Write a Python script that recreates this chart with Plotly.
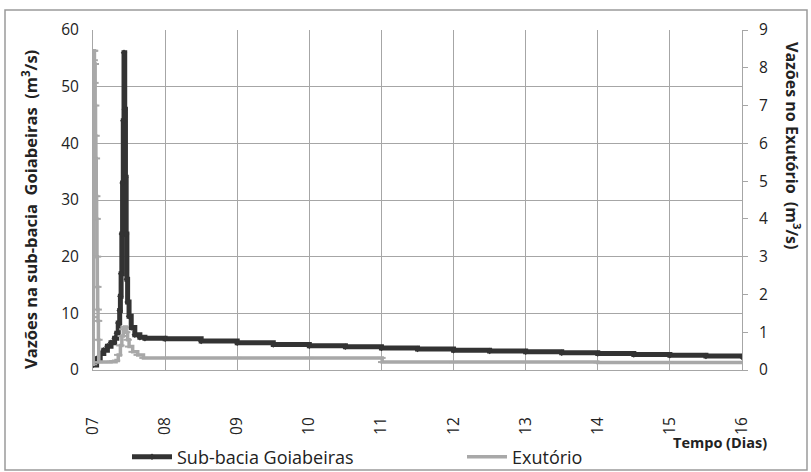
import plotly.graph_objects as go

# Sub-bacia Goiabeiras (left axis, m3/s)
t_goiab = [7.00, 7.05, 7.10, 7.15, 7.20, 7.25, 7.30, 7.33, 7.35, 7.37, 7.38, 7.39, 7.40,
           7.41, 7.42, 7.43, 7.44, 7.45, 7.46, 7.47, 7.48, 7.50, 7.53, 7.58, 7.65, 7.72,
           8.00, 8.50, 9.00, 9.50, 10.00, 10.50, 11.00, 11.50, 12.00, 12.50, 13.00, 13.50,
           14.00, 14.50, 15.00, 15.50, 16.00]
q_goiab = [0.9, 2.0, 2.9, 3.5, 4.2, 4.8, 5.6, 6.5, 8.3, 10.5, 13.0, 17.0, 24.0,
           33.0, 44.0, 56.0, 46.0, 34.0, 24.0, 16.0, 12.0, 9.5, 7.5, 6.2, 5.8, 5.6,
           5.5, 5.1, 4.8, 4.5, 4.3, 4.1, 3.9, 3.7, 3.5, 3.35, 3.2, 3.05, 2.9, 2.75,
           2.6, 2.45, 2.3]

# Exutorio (right axis, m3/s)
t_exut = [7.00, 7.003, 7.006, 7.01, 7.015, 7.02, 7.025, 7.03, 7.035, 7.04, 7.045, 7.05, 7.055,
          7.06, 7.065, 7.07, 7.075, 7.08, 7.15, 7.25, 7.32, 7.35, 7.38, 7.40, 7.42, 7.44,
          7.46, 7.48, 7.50, 7.55, 7.62, 7.70, 8.00, 9.00, 10.00, 11.00, 11.01, 12.00, 13.00,
          14.00, 15.00, 16.00]
q_exut = [0.15, 1.4, 8.45, 8.2, 8.45, 7.6, 8.1, 7.0, 6.2, 5.6, 4.6, 4.0, 3.0,
          2.2, 1.6, 1.3, 0.8, 0.21, 0.21, 0.22, 0.25, 0.4, 0.65, 0.9, 1.08, 1.14,
          1.0, 0.8, 0.62, 0.48, 0.4, 0.32, 0.32, 0.32, 0.32, 0.32, 0.21, 0.21, 0.21,
          0.20, 0.20, 0.20]

x_ticks = [7, 8, 9, 10, 11, 12, 13, 14, 15, 16]
x_ticktext = ["07", "08", "09", "10", "11", "12", "13", "14", "15", "16"]

font_fam = "Open Sans, Liberation Sans, sans-serif"
grid_col = "#a6a6a6"
txt_col = "#222222"

fig = go.Figure()
fig.add_trace(go.Scatter(
    x=t_goiab, y=q_goiab, name="Sub-bacia Goiabeiras", mode="lines+markers",
    line=dict(color="#333333", width=5, shape="hv"),
    marker=dict(symbol="diamond", size=5, color="#333333"),
    yaxis="y", legend="legend"))
fig.add_trace(go.Scatter(
    x=t_exut, y=q_exut, name="Exutório", mode="lines+markers",
    line=dict(color="#a8a8a8", width=3.5, shape="hv"),
    marker=dict(symbol="line-ew", size=6, color="#a8a8a8",
                line=dict(color="#a8a8a8", width=2)),
    yaxis="y2", legend="legend2"))

W, H = 811, 472
L, R, T, B = 93, 811 - 742, 30, 472 - 370
pw, ph = W - L - R, H - T - B


def px(xp):
    return (xp - L) / pw


def py(yp):
    return (H - B - yp) / ph


leg_common = dict(orientation="h", xref="container", yref="container",
                  yanchor="middle", xanchor="left",
                  font=dict(size=18, color=txt_col), itemwidth=40,
                  bgcolor="rgba(0,0,0,0)")

fig.update_layout(
    width=W, height=H,
    margin=dict(l=L, r=R, t=T, b=B, autoexpand=False),
    paper_bgcolor="white", plot_bgcolor="white",
    font=dict(family=font_fam, color=txt_col, size=15.5),
    xaxis=dict(range=[7, 16], tickmode="array", tickvals=x_ticks, ticktext=x_ticktext,
               tickangle=-90, showgrid=True, gridcolor=grid_col, gridwidth=1,
               showline=True, linecolor=grid_col, ticks="", ticklabelstandoff=40,
               tickfont=dict(size=15.5), zeroline=False, automargin=False),
    yaxis=dict(range=[0, 60], dtick=10, showgrid=True, gridcolor=grid_col, gridwidth=1,
               showline=True, linecolor=grid_col, ticks="", zeroline=False,
               ticklabelstandoff=10, tickfont=dict(size=15.5), automargin=False),
    yaxis2=dict(range=[0, 9], dtick=1, overlaying="y", side="right", showgrid=False,
                showline=True, linecolor=grid_col, ticks="outside", ticklen=5,
                tickcolor=grid_col, zeroline=False, ticklabelstandoff=8,
                tickfont=dict(size=15.5), automargin=False),
    legend=dict(x=127 / W, y=1 - 457 / H, **leg_common),
    legend2=dict(x=462 / W, y=1 - 457 / H, **leg_common),
    showlegend=True,
)

fig.add_annotation(text="<b>Tempo (Dias)</b>", xref="paper", yref="paper",
                   x=px(720), y=py(443), xanchor="center", yanchor="middle",
                   showarrow=False, font=dict(size=14.5, color=txt_col))
fig.add_annotation(text="<b>Vazões na sub-bacia  Goiabeiras  (m<sup>3</sup>/s)</b>",
                   xref="paper", yref="paper", x=px(30), y=py(210),
                   xanchor="center", yanchor="middle", showarrow=False,
                   textangle=-90, font=dict(size=16.5, color=txt_col))
fig.add_annotation(text="<b>Vazões no Exutório  (m<sup>3</sup>/s)</b>",
                   xref="paper", yref="paper", x=px(793), y=py(145),
                   xanchor="center", yanchor="middle", showarrow=False,
                   textangle=90, font=dict(size=16, color=txt_col))

fig.add_shape(type="rect", xref="paper", yref="paper",
              x0=px(5), x1=px(807), y0=py(470), y1=py(10),
              line=dict(color="#9a9a9a", width=1.5), fillcolor="rgba(0,0,0,0)", layer="below")

fig.write_html("out.html")
